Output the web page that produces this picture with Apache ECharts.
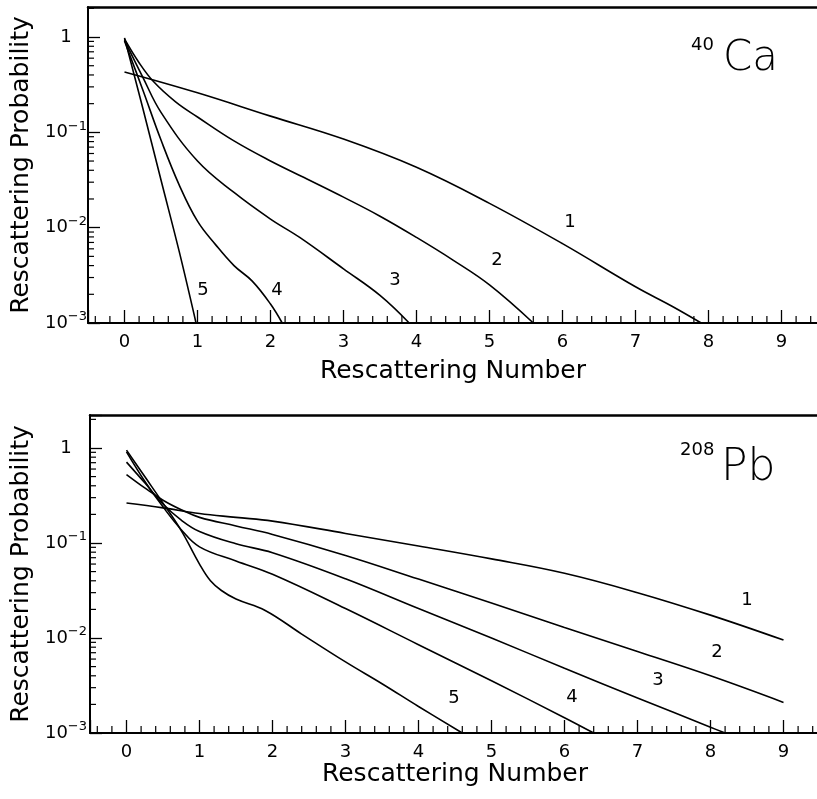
<!DOCTYPE html>
<html>
<head>
<meta charset="utf-8">
<script src="https://cdn.jsdelivr.net/npm/echarts@6/dist/echarts.min.js"></script>
<style>
  html, body { margin: 0; padding: 0; background: #fff; }
  #chart { width: 817px; height: 799px; }
</style>
</head>
<body>
<div id="chart"></div>
<script>
// rescattering number (x) and probability (y)
const caX1 = [0, 1, 2, 3, 4, 5, 6, 7, 7.5, 7.9];
const caP1 = [0.43, 0.26, 0.148, 0.085, 0.043, 0.018, 0.0068, 0.0024, 0.0015, 0.001];
const caX2 = [0, 0.2, 0.4, 0.7, 1, 1.5, 2, 2.5, 3, 3.5, 4, 4.5, 5, 5.6];
const caP2 = [0.955, 0.537, 0.339, 0.209, 0.145, 0.0813, 0.0501, 0.0324, 0.0209, 0.0132, 0.0079, 0.00457, 0.00251, 0.001];
const caX3 = [0, 0.25, 0.5, 1, 1.5, 2, 2.4, 3, 3.5, 3.9];
const caP3 = [0.93, 0.38, 0.162, 0.05, 0.0234, 0.0123, 0.0079, 0.0037, 0.00195, 0.001];
const caX4 = [0, 0.25, 0.5, 0.75, 1, 1.25, 1.5, 1.75, 2, 2.16];
const caP4 = [0.91, 0.28, 0.083, 0.028, 0.0117, 0.0066, 0.004, 0.00275, 0.00158, 0.001];
const caX5 = [0, 0.25, 0.5, 0.75, 0.98];
const caP5 = [0.98, 0.18, 0.0316, 0.0056, 0.001];

const pbX1 = [0, 0.5, 1, 1.5, 2, 3, 4, 5, 6, 7, 8, 9];
const pbP1 = [0.263, 0.234, 0.204, 0.186, 0.17, 0.126, 0.093, 0.068, 0.048, 0.03, 0.0174, 0.0095];
const pbX2 = [0, 0.25, 0.5, 0.75, 1, 1.5, 2, 3, 4, 5, 6, 7, 8, 9];
const pbP2 = [0.525, 0.38, 0.282, 0.224, 0.186, 0.151, 0.123, 0.074, 0.0417, 0.0234, 0.0129, 0.0072, 0.004, 0.0021];
const pbX3 = [0, 0.25, 0.5, 0.75, 1, 1.5, 2, 3, 4, 5, 6, 7, 8, 8.2];
const pbP3 = [0.71, 0.43, 0.257, 0.174, 0.132, 0.098, 0.079, 0.042, 0.0204, 0.01, 0.0048, 0.00234, 0.00115, 0.001];
const pbX4 = [0, 0.25, 0.5, 0.75, 1, 1.5, 2, 3, 4, 5, 6, 6.4];
const pbP4 = [0.91, 0.447, 0.24, 0.138, 0.091, 0.0646, 0.0468, 0.0204, 0.0085, 0.00355, 0.00145, 0.001];
const pbX5 = [0, 0.25, 0.5, 0.75, 1, 1.15, 1.3, 1.5, 1.9, 2.4, 3, 3.5, 4, 4.6];
const pbP5 = [0.95, 0.5, 0.263, 0.135, 0.06, 0.04, 0.0316, 0.0257, 0.0195, 0.011, 0.0056, 0.0033, 0.0019, 0.001];

const curveNames = ['1', '2', '3', '4', '5'];
const xTickLabels = ['0', '1', '2', '3', '4', '5', '6', '7', '8', '9'];
const yTickLabels = ['10{s|−3}', '10{s|−2}', '10{s|−1}', '1'];   // for log10 = -3..0

const caCurves = [[caX1, caP1], [caX2, caP2], [caX3, caP3], [caX4, caP4], [caX5, caP5]];
const pbCurves = [[pbX1, pbP1], [pbX2, pbP2], [pbX3, pbP3], [pbX4, pbP4], [pbX5, pbP5]];

// minor tick positions
const xMinorTicks = [];
for (let i = -2; i <= 47; i++) { if (i % 5 !== 0) xMinorTicks.push(i * 0.2); }
const yMinorTicks = [];
for (let d = -3; d <= 0; d++) {
    for (let k = 2; k <= 9; k++) {
        const v = d + Math.log10(k);
        if (v < 0.31) yMinorTicks.push(v);
    }
}

const FONT = 'DejaVu Sans';
const XMIN = -0.5, XMAX = 9.5;

let chart = echarts.init(document.getElementById('chart'), null, {renderer: 'canvas'});

function toLog(xs, ps){
    return xs.map((x, i) => [x, Math.log10(ps[i])]);
}

function mainX(grid){
    return {
        type: 'value', gridIndex: grid, position: 'bottom',
        min: XMIN, max: XMAX, splitNumber: 10,
        axisLine: {onZero: false, lineStyle: {color: '#000', width: 2}},
        axisTick: {inside: true, length: 13, lineStyle: {color: '#000', width: 1.3}},
        axisLabel: {
            margin: 10, color: '#000', fontFamily: FONT, fontSize: 18,
            formatter: (v) => {
                let r = Math.round(v);
                return Math.abs(v - r) < 1e-6 && r >= 0 ? xTickLabels[r] : '';
            }
        },
        splitLine: {show: false},
        name: 'Rescattering Number', nameLocation: 'middle', nameGap: grid === 0 ? 36 : 28,
        nameTextStyle: {color: '#000', fontFamily: FONT, fontSize: 25}
    };
}
function topX(grid){
    return {
        type: 'value', gridIndex: grid, position: 'top', min: XMIN, max: XMAX,
        axisLine: {onZero: false, lineStyle: {color: '#000', width: 2.5}},
        axisTick: {show: false}, axisLabel: {show: false}, splitLine: {show: false}
    };
}
function mainY(grid, max, margin){
    return {
        type: 'value', gridIndex: grid, min: -3, max: max, interval: 1,
        axisLine: {onZero: false, lineStyle: {color: '#000', width: 2}},
        axisTick: {inside: true, length: 12, lineStyle: {color: '#000', width: 1.3}},
        axisLabel: {
            margin: margin, align: 'center', color: '#000', fontFamily: FONT, fontSize: 18,
            formatter: (v) => {
                let r = Math.round(v);
                return Math.abs(v - r) < 1e-6 && r <= 0 ? yTickLabels[r + 3] : '';
            },
            rich: {
                s: {fontSize: 13, fontFamily: FONT, color: '#000', padding: [0, 0, 12, 0]}
            }
        },
        splitLine: {show: false},
        name: 'Rescattering Probability', nameLocation: 'middle', nameGap: 53,
        nameTextStyle: {color: '#000', fontFamily: FONT, fontSize: 25}
    };
}

function tickSeries(xi, yi, vals, isX, len){
    return {
        type: 'custom', xAxisIndex: xi, yAxisIndex: yi, silent: true, clip: false,
        data: vals.map(v => isX ? [v, -3] : [XMIN, v]),
        renderItem: (params, api) => {
            let p = api.coord([api.value(0), api.value(1)]);
            let shape = isX
                ? {x1: p[0], y1: p[1], x2: p[0], y2: p[1] - len}
                : {x1: p[0], y1: p[1], x2: p[0] + len, y2: p[1]};
            return {type: 'line', shape: shape, style: {stroke: '#000', lineWidth: 1.2}};
        }
    };
}

let series = [];
caCurves.forEach((c, i) => {
    series.push({
        name: 'Ca ' + curveNames[i], type: 'line', xAxisIndex: 0, yAxisIndex: 0,
        data: toLog(c[0], c[1]), showSymbol: false, smooth: 0.4,
        lineStyle: {color: '#000', width: 1.6}
    });
});
pbCurves.forEach((c, i) => {
    series.push({
        name: 'Pb ' + curveNames[i], type: 'line', xAxisIndex: 2, yAxisIndex: 1,
        data: toLog(c[0], c[1]), showSymbol: false, smooth: 0.4,
        lineStyle: {color: '#000', width: 1.6}
    });
});
series.push(tickSeries(0, 0, xMinorTicks, true, 7));
series.push(tickSeries(0, 0, yMinorTicks, false, 6));
series.push(tickSeries(2, 1, xMinorTicks, true, 7));
series.push(tickSeries(2, 1, yMinorTicks, false, 6));

function label(text, x, y, size){
    return {type: 'text', x: x, y: y, silent: true,
        style: {text: text, fill: '#000', fontFamily: FONT, fontSize: size, align: 'center', verticalAlign: 'middle'}};
}
const caLabelPos = [[570, 222], [497, 260], [395, 280], [277, 290], [203, 290]];
const pbLabelPos = [[747, 600], [717, 652], [658, 680], [572, 697], [454, 698]];
let graphics = [];
curveNames.forEach((n, i) => {
    graphics.push(label(n, caLabelPos[i][0], caLabelPos[i][1], 18));
    graphics.push(label(n, pbLabelPos[i][0], pbLabelPos[i][1], 18));
});
graphics.push({type: 'text', x: 691, y: 36, silent: true,
    style: {text: '40', fill: '#000', fontFamily: FONT, fontSize: 18}});
graphics.push({type: 'text', x: 723, y: 38, silent: true,
    style: {text: 'Ca', fill: '#000', fontFamily: FONT, fontSize: 42, fontWeight: 300}});
graphics.push({type: 'text', x: 680, y: 441, silent: true,
    style: {text: '208', fill: '#000', fontFamily: FONT, fontSize: 18}});
graphics.push({type: 'text', x: 721, y: 447, silent: true,
    style: {text: 'Pb', fill: '#000', fontFamily: FONT, fontSize: 44, fontWeight: 300}});

chart.setOption({
    backgroundColor: '#fff',
    animation: false,
    grid: [
        {left: 88, top: 7, width: 730, height: 316, containLabel: false, outerBoundsMode: 'none'},
        {left: 90, top: 415, width: 730, height: 318, containLabel: false, outerBoundsMode: 'none'}
    ],
    xAxis: [mainX(0), topX(0), mainX(1), topX(1)],
    yAxis: [mainY(0, 0.315, 22), mainY(1, 0.347, 24)],
    series: series,
    graphic: graphics
});
</script>
</body>
</html>
